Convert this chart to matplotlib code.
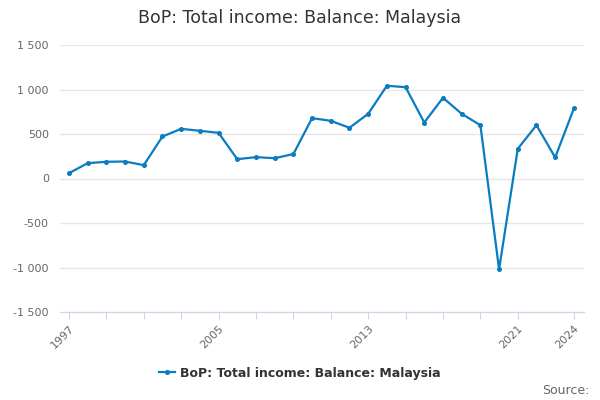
import matplotlib.pyplot as plt
from matplotlib.lines import Line2D

years = list(range(1997, 2025))
values = [60, 172, 188, 191, 150, 472, 558, 536, 513, 217, 240, 228, 275,
          678, 648, 570, 727, 1042, 1026, 629, 907, 727, 599, -1020,
          334, 599, 236, 787]
tick_years = list(range(1997, 2022, 2)) + [2024]
label_years = [1997, 2005, 2013, 2021, 2024]
y_ticks = [-1500, -1000, -500, 0, 500, 1000, 1500]
series_name = "BoP: Total income: Balance: Malaysia"

blue = "#0a7cc1"
grey = "#666666"

fig = plt.figure(figsize=(6, 4), dpi=100)
ax = fig.add_axes([0.1, 0.22, 0.873, 0.6675])

ax.plot(years, values, color=blue, lw=1.6, marker="o", ms=2.6, zorder=3)

ax.set_xlim(1996.52, 2024.53)
ax.set_ylim(-1500, 1500)

ax.set_yticks(y_ticks)
ax.set_yticklabels([f"{v:,}".replace(",", " ") for v in y_ticks])
ax.yaxis.grid(True, color="#e6e6e6", lw=1)
ax.set_axisbelow(True)
ax.tick_params(axis="y", length=0, labelsize=8, labelcolor=grey, pad=8)

ax.set_xticks(tick_years)
ax.set_xticklabels([str(y) if y in label_years else "" for y in tick_years],
                   rotation=45, ha="right", rotation_mode="anchor")
ax.tick_params(axis="x", length=5, color="#ccd6eb", labelsize=8,
               labelcolor=grey, pad=3)

for s in ["top", "right", "left"]:
    ax.spines[s].set_visible(False)
ax.spines["bottom"].set_color("#ccd6eb")

fig.text(0.5, 0.955, series_name, ha="center", va="center",
         fontsize=12.5, color="#333333")

handle = Line2D([], [], color=blue, lw=1.6, marker="o", ms=2.6)
fig.legend([handle], [series_name], loc="center", bbox_to_anchor=(0.5, 0.067),
           frameon=False, handlelength=1.3, handletextpad=0.4,
           prop={"size": 9, "weight": "bold"}, labelcolor="#333333")

fig.text(0.982, 0.025, "Source:", ha="right", va="center", fontsize=9,
         color=grey)

fig.savefig("out.png", dpi=100)
